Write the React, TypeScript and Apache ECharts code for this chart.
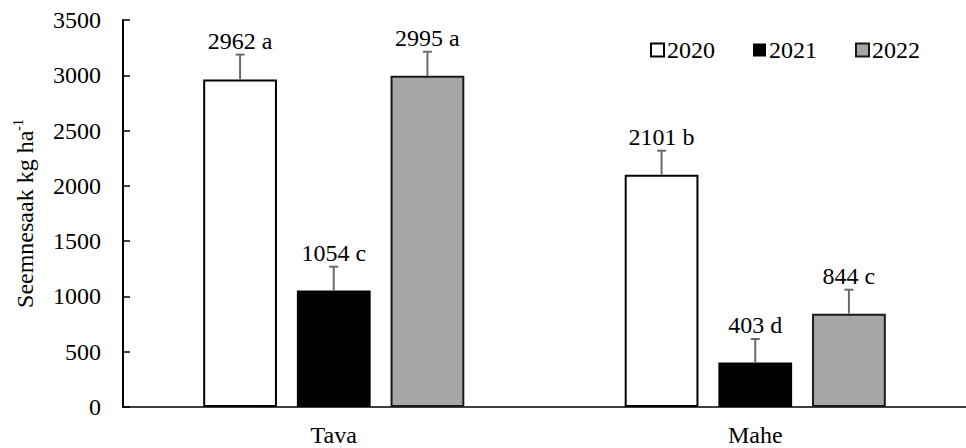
import React, { useEffect, useRef } from "react";
import * as echarts from "echarts";

const categories = ["Tava", "Mahe"];
const years = ["2020", "2021", "2022"];
const values2020 = [2962, 2101];
const values2021 = [1054, 403];
const values2022 = [2995, 844];
const errors2020 = [225, 217];
const errors2021 = [215, 212];
const errors2022 = [218, 217];
const letters2020 = ["a", "b"];
const letters2021 = ["c", "d"];
const letters2022 = ["a", "c"];
const yTicks = { min: 0, max: 3500, interval: 500 };

const FONT = "Liberation Serif";
const FS = 24;
const BAR_W = 0.175; // fraction of band
const BAR_GAP = 0.27; // fraction of bar width

export default function App() {
  const ref = useRef<HTMLDivElement>(null);
  useEffect(() => {
    if (!ref.current) return;
    const chart = echarts.init(ref.current, undefined, { renderer: "svg" });
    const vals = [values2020, values2021, values2022];
    const errs = [errors2020, errors2021, errors2022];
    const lets = [letters2020, letters2021, letters2022];
    const styles = [
      { color: "#ffffff", borderColor: "#000000", borderWidth: 2 },
      { color: "#000000", borderColor: "#000000", borderWidth: 0 },
      { color: "#a6a6a6", borderColor: "#1a1a1a", borderWidth: 2 },
    ];
    const barSeries = years.map((y, i) => ({
      name: y,
      type: "bar",
      data: vals[i],
      barWidth: BAR_W * 100 + "%",
      barGap: BAR_GAP * 100 + "%",
      itemStyle: styles[i],
      z: 2,
    }));
    const errSeries = years.map((y, i) => ({
      type: "custom",
      name: "err" + y,
      data: categories.map((c, k) => [k, vals[i][k], errs[i][k]]),
      z: 5,
      silent: true,
      renderItem: (params: any, api: any) => {
        const k = api.value(0);
        const v = api.value(1);
        const e = api.value(2);
        const band = api.size([1, 0])[0];
        const off = (i - 1) * band * BAR_W * (1 + BAR_GAP);
        const base = api.coord([k, v]);
        const top = api.coord([k, v + e]);
        const x = base[0] + off;
        const letter = lets[i][k];
        return {
          type: "group",
          children: [
            {
              type: "line",
              shape: { x1: x, y1: base[1], x2: x, y2: top[1] },
              style: { stroke: "#6b6b6b", lineWidth: 2 },
            },
            {
              type: "line",
              shape: { x1: x - 4.5, y1: top[1], x2: x + 4.5, y2: top[1] },
              style: { stroke: "#6b6b6b", lineWidth: 2 },
            },
            {
              type: "text",
              style: {
                text: v + " " + letter,
                x: x,
                y: top[1] - 2,
                align: "center",
                verticalAlign: "bottom",
                textAlign: "center",
                textVerticalAlign: "bottom",
                fontFamily: FONT,
                fontSize: FS,
                fill: "#000",
              },
            },
          ],
        };
      },
    }));
    chart.setOption({
      animation: false,
      textStyle: { fontFamily: FONT },
      grid: { left: 123, top: 20, width: 848, height: 387 },
      legend: {
        data: years,
        left: 645,
        top: 33,
        itemWidth: 13,
        itemHeight: 13,
        itemGap: 38,
        icon: "rect",
        textStyle: { fontFamily: FONT, fontSize: FS, color: "#000", padding: [0, 0, 0, -2] },
      },
      xAxis: {
        type: "category",
        data: categories,
        axisTick: { show: false },
        axisLine: { lineStyle: { color: "#000", width: 1.5 } },
        axisLabel: { fontFamily: FONT, fontSize: FS, color: "#000", margin: 16 },
      },
      yAxis: {
        type: "value",
        min: yTicks.min,
        max: yTicks.max,
        interval: yTicks.interval,
        splitLine: { show: false },
        axisLine: { show: true, lineStyle: { color: "#000", width: 2 } },
        axisTick: { show: true, inside: true, length: 7, lineStyle: { color: "#000", width: 1.5 } },
        axisLabel: {
          fontFamily: FONT,
          fontSize: FS,
          color: "#000",
          margin: 22,
          formatter: (v: number) => String(v),
        },
        name: "{a|Seemnesaak kg ha}{b|-1}",
        nameLocation: "middle",
        nameRotate: 90,
        nameGap: 84,
        nameTextStyle: {
          fontFamily: FONT,
          fontSize: FS,
          color: "#000",
          rich: {
            a: { fontFamily: FONT, fontSize: FS, color: "#000", lineHeight: 28 },
            b: { fontFamily: FONT, fontSize: 14, color: "#000", lineHeight: 14, verticalAlign: "top" },
          },
        },
      },
      series: [...barSeries, ...errSeries],
    });
    return () => chart.dispose();
  }, []);
  return (
    <div
      ref={ref}
      style={{ position: "fixed", left: 0, top: 0, width: 966, height: 448, background: "#fff" }}
    />
  );
}
